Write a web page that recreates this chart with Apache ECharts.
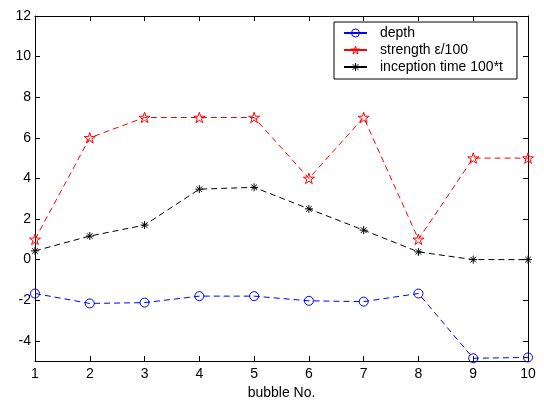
<!DOCTYPE html>
<html><head><meta charset="utf-8">
<script src="https://cdn.jsdelivr.net/npm/echarts@6/dist/echarts.min.js"></script>
<style>html,body{margin:0;padding:0;background:#fff}#c{width:544px;height:405px}</style>
</head><body><div id="c"></div>
<script>
var bubbles = [1,2,3,4,5,6,7,8,9,10];
var depth = [-1.67,-2.16,-2.12,-1.8,-1.8,-2.03,-2.07,-1.67,-4.86,-4.82];
var strength = [1,6,7,7,7,4,7,1,5,5];
var inception = [0.43,1.16,1.7,3.47,3.56,2.5,1.45,0.38,0,0];
var yTicks = [-4,-2,0,2,4,6,8,10,12];
var names = ['depth','strength \u03b5/100','inception time 100*t'];

function pairs(v){ return bubbles.map(function(b,i){return [b,v[i]];}); }

var STAR = 'path://M0,-100L22.45,-30.9L95.1,-30.9L36.3,11.8L58.8,80.9L0,38.2L-58.8,80.9L-36.3,11.8L-95.1,-30.9L-22.45,-30.9Z';
var AST = 'path://M0,-10L0,10M-10,0L10,0M-7,-7L7,7M-7,7L7,-7';
var FONT = '"Liberation Sans", Arial, sans-serif';

var chart = echarts.init(document.getElementById('c'));
var axisCommon = {
  axisLine:{show:true,onZero:false,lineStyle:{color:'#000',width:1}},
  axisTick:{show:true,inside:true,length:5,lineStyle:{color:'#000'}},
  splitLine:{show:false}
};
chart.setOption({
  animation:false,
  backgroundColor:'#fff',
  grid:{left:35,right:16,top:16,bottom:37,containLabel:false},
  legend:{
    orient:'vertical', left:334, top:22,
    backgroundColor:'#fff', borderColor:'#000', borderWidth:1,
    padding:[4,14,5,9], itemGap:3, itemWidth:23, itemHeight:10,
    textStyle:{color:'#000',fontSize:14,fontFamily:FONT,lineHeight:14,padding:[0,0,0,8]},
    lineStyle:{type:'solid'},
    itemStyle:{color:'rgba(0,0,0,0)',borderWidth:1},
    data:names
  },
  xAxis:[
    Object.assign({type:'value',min:1,max:10,interval:1,position:'bottom',
      name:'bubble No.',nameLocation:'middle',nameGap:22,
      nameTextStyle:{color:'#000',fontSize:14,fontFamily:FONT},
      axisLabel:{color:'#000',fontSize:14,fontFamily:FONT,margin:6}},axisCommon),
    Object.assign({type:'value',min:1,max:10,interval:1,position:'top',
      axisLabel:{show:false}},axisCommon)
  ],
  yAxis:[
    Object.assign({type:'value',min:-5,max:12,position:'left',
      axisLabel:{color:'#000',fontSize:14,fontFamily:FONT,margin:4,customValues:yTicks}},axisCommon,
      {axisTick:{show:true,inside:true,length:5,lineStyle:{color:'#000'},customValues:yTicks}}),
    Object.assign({type:'value',min:-5,max:12,position:'right',
      axisLabel:{show:false}},axisCommon,
      {axisTick:{show:true,inside:true,length:5,lineStyle:{color:'#000'},customValues:yTicks}})
  ],
  series:[
    {name:names[0],type:'line',data:pairs(depth),symbol:'circle',symbolSize:9,
     lineStyle:{color:'#0000ff',width:1,type:[6,4]},
     itemStyle:{color:'rgba(0,0,0,0)',borderColor:'#0000ff',borderWidth:1}},
    {name:names[1],type:'line',data:pairs(strength),symbol:STAR,symbolSize:11,symbolKeepAspect:true,
     lineStyle:{color:'#ff0000',width:1,type:[6,4]},
     itemStyle:{color:'rgba(0,0,0,0)',borderColor:'#ff0000',borderWidth:1}},
    {name:names[2],type:'line',data:pairs(inception),symbol:AST,symbolSize:8,symbolKeepAspect:true,
     lineStyle:{color:'#000',width:1,type:[6,4]},
     itemStyle:{color:'rgba(0,0,0,0)',borderColor:'#000',borderWidth:1}}
  ]
});
</script></body></html>
